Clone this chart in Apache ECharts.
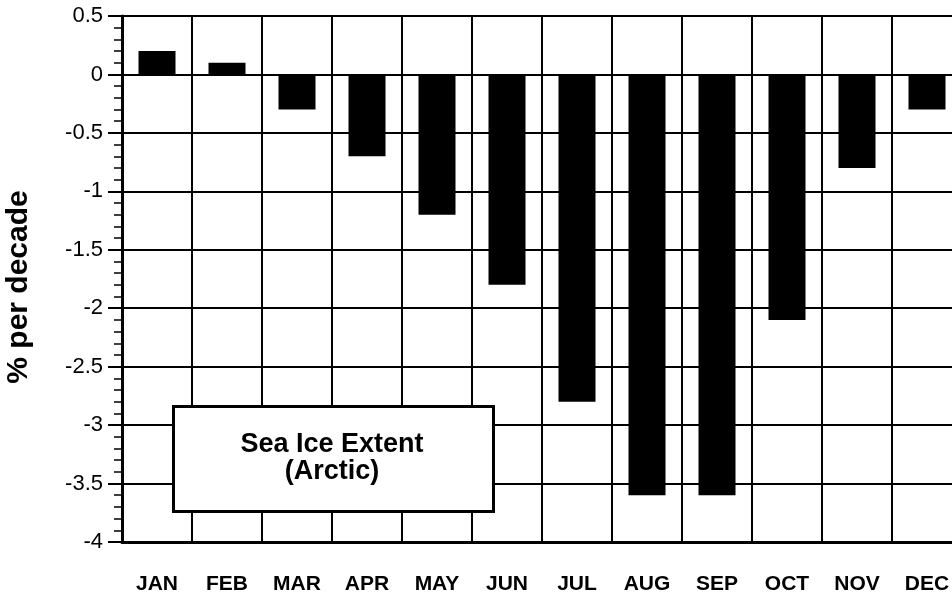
<!DOCTYPE html>
<html>
<head>
<meta charset="utf-8">
<script src="https://cdn.jsdelivr.net/npm/echarts@6/dist/echarts.min.js"></script>
<style>
  html, body { margin: 0; padding: 0; background: #fff; }
  #chart { width: 952px; height: 598px; }
</style>
</head>
<body>
<div id="chart"></div>
<script>
// data
const months = ['JAN', 'FEB', 'MAR', 'APR', 'MAY', 'JUN', 'JUL', 'AUG', 'SEP', 'OCT', 'NOV', 'DEC'];
const trend = [0.2, 0.1, -0.3, -0.7, -1.2, -1.8, -2.8, -3.6, -3.6, -2.1, -0.8, -0.3];
const yMin = -4;
const yMax = 0.5;
const yStep = 0.5;
const boxLines = ['Sea Ice Extent', '(Arctic)'];

const font = '"Liberation Sans", Arial, Helvetica, sans-serif';

var myChart = echarts.init(document.getElementById('chart'));

let options = {
    animation: false,
    backgroundColor: '#fff',
    grid: {
        left: 122,
        top: 16,
        width: 840,
        height: 526,
        outerBoundsMode: 'none'
    },
    xAxis: {
        type: 'category',
        data: months,
        boundaryGap: true,
        axisLine: {
            onZero: false,
            lineStyle: { color: '#000', width: 3 }
        },
        axisTick: { show: false },
        axisLabel: {
            margin: 32,
            color: '#000',
            fontSize: 21,
            fontWeight: 'bold',
            fontFamily: font
        },
        splitLine: {
            show: true,
            lineStyle: { color: '#000', width: 2 }
        }
    },
    yAxis: {
        type: 'value',
        min: yMin,
        max: yMax,
        interval: yStep,
        name: '% per decade',
        nameLocation: 'middle',
        nameRotate: 90,
        nameGap: 88,
        nameTextStyle: {
            color: '#000',
            fontSize: 30,
            fontWeight: 'bold',
            fontFamily: font,
            padding: [0, 16, 0, 0]
        },
        axisLine: {
            show: true,
            lineStyle: { color: '#000', width: 3 }
        },
        axisTick: {
            show: true,
            length: 14,
            lineStyle: { color: '#000', width: 2 }
        },
        minorTick: {
            show: true,
            splitNumber: 5,
            length: 8,
            lineStyle: { color: '#000', width: 1.5 }
        },
        axisLabel: {
            margin: 19,
            color: '#000',
            fontSize: 22,
            fontFamily: font
        },
        splitLine: {
            show: true,
            lineStyle: { color: '#000', width: 2 }
        }
    },
    series: [
        {
            type: 'bar',
            data: trend,
            barWidth: 37,
            itemStyle: { color: '#000' }
        }
    ],
    graphic: [
        {
            type: 'rect',
            left: 172,
            top: 405,
            z: 100,
            shape: { width: 320, height: 105 },
            style: { fill: '#fff', stroke: '#000', lineWidth: 3 }
        },
        {
            type: 'text',
            x: 332,
            y: 445,
            z: 101,
            style: {
                text: boxLines[0],
                fill: '#000',
                font: 'bold 27px ' + font,
                textAlign: 'center',
                textVerticalAlign: 'middle'
            }
        },
        {
            type: 'text',
            x: 332,
            y: 472,
            z: 101,
            style: {
                text: boxLines[1],
                fill: '#000',
                font: 'bold 27px ' + font,
                textAlign: 'center',
                textVerticalAlign: 'middle'
            }
        }
    ]
};

myChart.setOption(options);
</script>
</body>
</html>
